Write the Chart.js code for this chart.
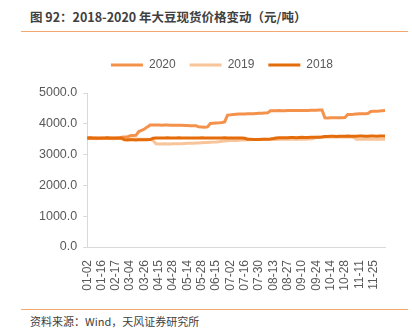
<!DOCTYPE html>
<html>
<head>
<meta charset="utf-8">
<script src="https://cdn.jsdelivr.net/npm/chart.js@4/dist/chart.umd.min.js"></script>
<style>
  body { margin: 0; width: 412px; height: 335px; background: #fff; position: relative; overflow: hidden; font-family: "Noto Sans CJK SC", sans-serif; }
  .title { position: absolute; left: 30px; top: 8px; font-size: 12.5px; font-weight: bold; color: #404040; line-height: 18px; white-space: nowrap; }
  .rule { position: absolute; left: 21px; width: 387px; height: 1px; background: #f2a86f; }
  .box { position: absolute; left: 0; top: 40px; width: 412px; height: 269px; }
  .src { position: absolute; left: 30px; top: 313px; font-size: 11px; color: #404040; line-height: 17px; white-space: nowrap; }
</style>
</head>
<body>
<div class="title">图 92：2018-2020 年大豆现货价格变动（元/吨）</div>
<div class="rule" style="top:31px"></div>
<div class="box"><canvas id="priceChart"></canvas></div>
<div class="rule" style="top:309px"></div>
<div class="src">资料来源：Wind，天风证券研究所</div>
<script>
// tick labels shown on the x axis, one every 5 data points
const tickLabels = ["01-02", "01-16", "02-17", "03-04", "03-26", "04-15", "04-28",
  "05-14", "05-28", "06-15", "07-02", "07-16", "07-30", "08-13", "08-27",
  "09-10", "09-24", "10-14", "10-28", "11-11", "11-25"];

const yTicks = [0, 1000, 2000, 3000, 4000, 5000];

const s2020 = [
  3530, 3535, 3530, 3530, 3525, 3530, 3530, 3535, 3530, 3530,
  3530, 3535, 3560, 3570, 3575, 3610, 3620, 3625, 3750, 3790,
  3830, 3900, 3960, 3965, 3960, 3960, 3955, 3960, 3960, 3955,
  3955, 3950, 3950, 3950, 3945, 3945, 3940, 3940, 3935, 3900,
  3895, 3890, 3900, 4010, 4020, 4025, 4030, 4040, 4060, 4280,
  4290, 4300, 4310, 4315, 4320, 4320, 4325, 4330, 4330, 4335,
  4340, 4345, 4350, 4355, 4425, 4425, 4425, 4430, 4425, 4425,
  4430, 4430, 4430, 4435, 4430, 4435, 4435, 4435, 4440, 4440,
  4440, 4445, 4445, 4195, 4190, 4195, 4195, 4200, 4195, 4200,
  4205, 4300, 4305, 4310, 4320, 4325, 4330, 4330, 4335, 4400,
  4405, 4410, 4415, 4425, 4430
];

const s2019 = [
  3520, 3525, 3520, 3515, 3520, 3520, 3525, 3520, 3520, 3515,
  3520, 3520, 3515, 3510, 3505, 3500, 3500, 3505, 3500, 3500,
  3500, 3495, 3490, 3460, 3350, 3345, 3345, 3350, 3345, 3345,
  3350, 3350, 3350, 3355, 3360, 3365, 3370, 3370, 3375, 3380,
  3385, 3390, 3395, 3400, 3405, 3410, 3420, 3435, 3445, 3450,
  3455, 3460, 3460, 3465, 3470, 3470, 3480, 3485, 3490, 3490,
  3490, 3490, 3495, 3490, 3490, 3495, 3490, 3495, 3495, 3500,
  3500, 3505, 3500, 3500, 3505, 3500, 3500, 3505, 3510, 3520,
  3560, 3565, 3570, 3570, 3570, 3575, 3570, 3570, 3575, 3570,
  3570, 3575, 3570, 3560, 3500, 3500, 3495, 3500, 3500, 3505,
  3500, 3500, 3505, 3500, 3500
];

const s2018 = [
  3540, 3545, 3540, 3540, 3535, 3540, 3540, 3545, 3540, 3540,
  3535, 3540, 3530, 3480, 3475, 3480, 3480, 3475, 3480, 3485,
  3480, 3480, 3490, 3530, 3535, 3540, 3540, 3540, 3545, 3540,
  3540, 3540, 3545, 3540, 3540, 3540, 3535, 3540, 3540, 3540,
  3545, 3540, 3540, 3540, 3540, 3535, 3540, 3540, 3545, 3540,
  3540, 3540, 3540, 3535, 3540, 3530, 3500, 3495, 3490, 3490,
  3490, 3495, 3500, 3500, 3505, 3520, 3540, 3545, 3550, 3550,
  3550, 3555, 3555, 3550, 3555, 3560, 3555, 3555, 3560, 3560,
  3560, 3565, 3570, 3590, 3590, 3595, 3595, 3590, 3595, 3595,
  3595, 3600, 3595, 3595, 3595, 3600, 3600, 3595, 3595, 3600,
  3600, 3595, 3600, 3600, 3600
];

// every 5th point carries a date label, the rest stay blank
const categories = s2020.map((v, i) => (i % 5 === 0 && tickLabels[i / 5]) ? tickLabels[i / 5] : "");

const axisFont = { family: "'Liberation Sans', Arial, sans-serif", size: 12 };

// nudge the legend to the right and leave a gap under it
const legendTweak = {
  id: "legendTweak",
  afterInit(chart) {
    const lg = chart.legend;
    const fit = lg.fit.bind(lg);
    const draw = lg.draw.bind(lg);
    lg.fit = function () {
      fit();
      this.height += 12;
    };
    lg.draw = function () {
      chart.ctx.save();
      chart.ctx.translate(13, 0);
      draw();
      chart.ctx.restore();
    };
  },
};

const ctx = document.getElementById("priceChart");
const priceChart = new Chart(ctx, {
  type: "line",
  data: {
    labels: categories,
    datasets: [
      {
        label: "2020",
        data: s2020,
        borderColor: "#f4914b",
        backgroundColor: "#f4914b",
        borderWidth: 3,
        pointRadius: 0,
        order: 1,
      },
      {
        label: "2019",
        data: s2019,
        borderColor: "#f8c499",
        backgroundColor: "#f8c499",
        borderWidth: 3,
        pointRadius: 0,
        order: 2,
      },
      {
        label: "2018",
        data: s2018,
        borderColor: "#e46c0a",
        backgroundColor: "#e46c0a",
        borderWidth: 3,
        pointRadius: 0,
        order: 0,
      },
    ],
  },
  plugins: [legendTweak],
  options: {
    responsive: true,
    maintainAspectRatio: false,
    animation: false,
    layout: {
      padding: { left: 33, right: 27, top: 5, bottom: 0 },
    },
    plugins: {
      tooltip: { enabled: false },
      legend: {
        position: "top",
        labels: {
          font: axisFont,
          color: "#595959",
          boxWidth: 32,
          boxHeight: 3,
          padding: 14,
          sort: (a, b) => a.datasetIndex - b.datasetIndex,
          generateLabels(chart) {
            const items = Chart.defaults.plugins.legend.labels.generateLabels(chart);
            items.forEach((it) => {
              it.lineWidth = 0;
              it.fillStyle = it.strokeStyle;
            });
            return items;
          },
        },
      },
    },
    scales: {
      x: {
        afterFit(scale) {
          scale.height = 62;
        },
        grid: { display: false },
        border: { display: true, color: "#d9d9d9" },
        ticks: {
          autoSkip: false,
          minRotation: 90,
          maxRotation: 90,
          font: axisFont,
          color: "#595959",
          padding: 5,
        },
      },
      y: {
        min: 0,
        max: 5000,
        afterBuildTicks(scale) {
          scale.ticks = yTicks.map((v) => ({ value: v }));
        },
        grid: { drawOnChartArea: false, tickLength: 4, color: "#d9d9d9" },
        border: { color: "#d9d9d9" },
        ticks: {
          font: { family: axisFont.family, size: 12.5 },
          color: "#595959",
          padding: 6,
          callback: (v) => v.toFixed(1),
        },
      },
    },
  },
});
</script>
</body>
</html>
